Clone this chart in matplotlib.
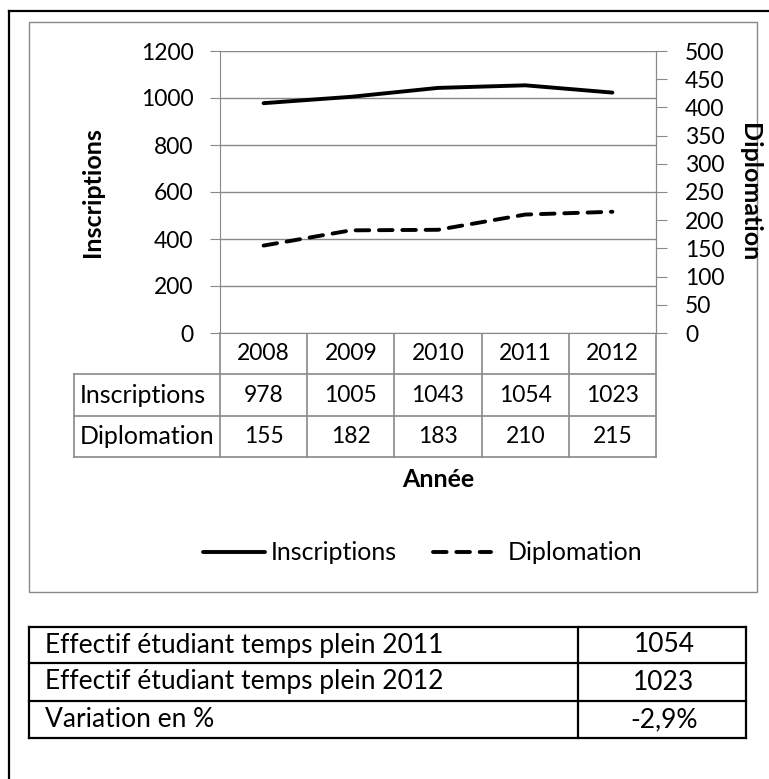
import matplotlib
matplotlib.use("Agg")
import matplotlib.pyplot as plt

plt.rcParams['font.family'] = ['Lato', 'DejaVu Sans']

years = ['2008', '2009', '2010', '2011', '2012']
inscriptions = [978, 1005, 1043, 1054, 1023]
diplomation = [155, 182, 183, 210, 215]
summary_labels = ['Effectif étudiant temps plein 2011',
                  'Effectif étudiant temps plein 2012',
                  'Variation en %']
summary_values = ['1054', '1023', '-2,9%']

W, H = 769, 779
GRAY = '#898989'
FS = 18      # words
FN = 16.5    # numbers
DASH = (0, (3.5, 2.5))

# layout in pixels (top-left origin)
PL, PR, PT, PB = 220, 656, 51, 333
ROWS = [333, 374, 416, 457]
TLEFT = 74


def rect(x0, y0, x1, y1):
    return [x0 / W, 1 - y1 / H, (x1 - x0) / W, (y1 - y0) / H]


fig = plt.figure(figsize=(W / 100, H / 100), dpi=100)

# background layer: frames, tables, legend (pixel coords)
bg = fig.add_axes([0, 0, 1, 1])
bg.set_xlim(0, W)
bg.set_ylim(H, 0)
bg.axis('off')
bg.plot([9, 9], [11, H + 5], color='black', lw=1.6)
bg.plot([9, W + 5], [11, 11], color='black', lw=1.6)
bg.add_patch(plt.Rectangle((29, 22), 757 - 29, 592 - 22, fill=False,
                           ec=GRAY, lw=1))

# main chart
ax = fig.add_axes(rect(PL, PT, PR, PB))
x = list(range(len(years)))
ax.plot(x, inscriptions, color='black', lw=2.8, solid_capstyle='round')
ax.set_xlim(-0.5, len(years) - 0.5)
ax.set_ylim(0, 1200)
ax.set_yticks(range(0, 1201, 200))
ax.set_xticks([])
ax.grid(axis='y', color=GRAY, lw=1)
ax.set_axisbelow(True)
for s in ['left', 'right', 'bottom']:
    ax.spines[s].set_color(GRAY)
ax.spines['top'].set_visible(False)
ax.tick_params(axis='y', colors=GRAY, labelcolor='black', labelsize=FN,
               length=7, direction='out', pad=12)

ax2 = ax.twinx()
ax2.plot(x, diplomation, color='black', lw=2.8, linestyle=DASH,
         dash_capstyle='round')
ax2.set_ylim(0, 500)
ax2.set_yticks(range(0, 501, 50))
for s in ['left', 'bottom', 'top']:
    ax2.spines[s].set_visible(False)
ax2.spines['right'].set_color(GRAY)
ax2.tick_params(axis='y', colors=GRAY, labelcolor='black', labelsize=FN,
                length=8, direction='out', pad=13)

bg.text(93, (PT + PB) / 2, 'Inscriptions', rotation=90, ha='center',
        va='center', fontsize=FS, fontweight='bold')
bg.text(750, (PT + PB) / 2, 'Diplomation', rotation=-90, ha='center',
        va='center', fontsize=FS, fontweight='bold')

# data table under the chart
colw = (PR - PL) / len(years)
for i in range(len(years) + 1):
    xx = PL + i * colw
    bg.plot([xx, xx], [ROWS[0], ROWS[-1]], color=GRAY, lw=1.2)
bg.plot([TLEFT, TLEFT], [ROWS[1], ROWS[-1]], color=GRAY, lw=1.2)
for yy in ROWS[1:]:
    bg.plot([TLEFT, PR], [yy, yy], color=GRAY, lw=1.2)
row_vals = [years, [str(v) for v in inscriptions], [str(v) for v in diplomation]]
for r, vals in enumerate(row_vals):
    cy = (ROWS[r] + ROWS[r + 1]) / 2
    for i, v in enumerate(vals):
        bg.text(PL + (i + 0.5) * colw, cy, v, ha='center', va='center',
                fontsize=FN)
for r, lab in enumerate(['Inscriptions', 'Diplomation'], start=1):
    cy = (ROWS[r] + ROWS[r + 1]) / 2
    bg.text(TLEFT + 6, cy, lab, ha='left', va='center', fontsize=FS)
bg.text(438, 479, 'Année', ha='center', va='center', fontsize=FS,
        fontweight='bold')

# legend
LY = 552
bg.plot([203, 265], [LY, LY], color='black', lw=2.8, solid_capstyle='round')
bg.text(271, LY, 'Inscriptions', ha='left', va='center', fontsize=FS)
bg.plot([433, 491], [LY, LY], color='black', lw=2.8, linestyle=DASH,
        dash_capstyle='round')
bg.text(508, LY, 'Diplomation', ha='left', va='center', fontsize=FS)

# summary table
TR = [627, 663, 701, 738]
for yy in TR:
    bg.plot([29, 746], [yy, yy], color='black', lw=1.6)
for xx in [29, 578, 746]:
    bg.plot([xx, xx], [TR[0], TR[-1]], color='black', lw=1.6)
for i, (lab, val) in enumerate(zip(summary_labels, summary_values)):
    cy = (TR[i] + TR[i + 1]) / 2
    bg.text(45, cy, lab, ha='left', va='center', fontsize=19)
    bg.text(664, cy, val, ha='center', va='center', fontsize=19)

fig.savefig('out.png', dpi=100)
